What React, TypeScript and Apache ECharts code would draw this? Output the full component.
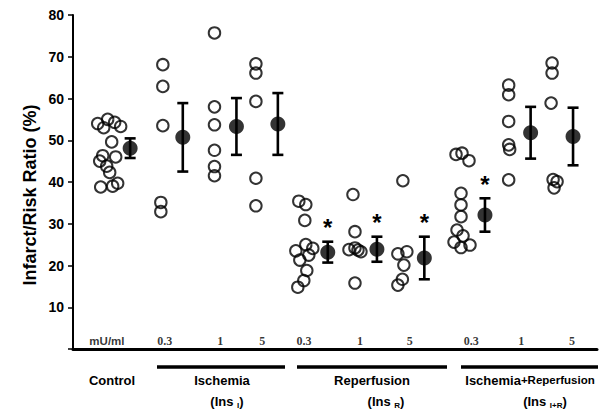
import React, { useEffect, useRef } from "react";
import * as echarts from "echarts";

// ---- data ----
const groupNames = ["Control", "Isch 0.3", "Isch 1", "Isch 5", "Rep 0.3", "Rep 1", "Rep 5", "I+R 0.3", "I+R 1", "I+R 5"];
const groupPos = [0.925, 1.98, 3.055, 3.885, 4.885, 5.87, 6.82, 8.035, 8.95, 9.8];

const controlVals = [54.0, 55.0, 53.0, 54.3, 53.3, 49.6, 46.3, 46.0, 45.0, 43.8, 42.3, 38.8, 39.0, 39.7];
const controlJitter = [-0.21, -0.01, -0.09, 0.13, 0.25, 0.07, -0.11, 0.15, -0.17, -0.03, 0.03, -0.15, 0.09, 0.19];
const isch03Vals = [68.1, 62.9, 53.5, 35.1, 32.9];
const isch03Jitter = [0.04, 0.04, 0.04, 0, 0];
const isch1Vals = [75.7, 58.0, 53.7, 47.6, 43.7, 41.5];
const isch1Jitter = [0, 0, 0, 0, 0, 0];
const isch5Vals = [68.3, 66.1, 59.3, 40.9, 34.3];
const isch5Jitter = [0, 0, 0, 0, 0];
const rep03Vals = [35.4, 34.6, 30.8, 25.0, 24.1, 23.5, 22.5, 21.3, 18.8, 16.4, 14.8];
const rep03Jitter = [-0.14, 0, -0.02, 0, 0.14, -0.2, 0.06, -0.12, 0.02, -0.04, -0.16];
const rep1Vals = [37.0, 28.1, 23.8, 24.2, 23.7, 23.3, 15.8];
const rep1Jitter = [-0.04, 0, -0.12, 0, 0.06, 0.12, 0];
const rep5Vals = [40.3, 23.3, 22.8, 20.1, 16.7, 15.3];
const rep5Jitter = [0.01, 0.09, -0.09, 0.03, 0, -0.09];
const ir03Vals = [46.6, 46.9, 45.1, 37.3, 34.5, 31.7, 28.5, 27.1, 25.6, 24.3, 24.9];
const ir03Jitter = [-0.14, -0.02, 0.12, -0.04, -0.04, -0.04, -0.12, 0, -0.18, -0.04, 0.14];
const ir1Vals = [63.2, 60.9, 54.5, 48.9, 47.8, 40.5];
const ir1Jitter = [0, 0, 0, 0, 0.02, 0];
const ir5Vals = [68.5, 66.1, 58.9, 40.6, 40.1, 38.6];
const ir5Jitter = [0.02, 0.02, 0, 0.04, 0.12, 0.06];

const meanVals = [48.1, 50.7, 53.3, 53.9, 23.2, 23.9, 21.8, 32.1, 51.8, 50.9];
const semVals = [2.35, 8.2, 6.8, 7.4, 2.5, 3.0, 5.1, 4.0, 6.2, 6.9];
const significant = [false, false, false, false, true, true, true, true, false, false];

const doseLabels = ["mU/ml", "0.3", "1", "5", "0.3", "1", "5", "0.3", "1", "5"];
const doseLabelPos = [0.68, 1.84, 2.95, 3.79, 4.63, 5.75, 6.75, 7.98, 8.98, 10.0];

const yTicks = [10, 20, 30, 40, 50, 60, 70, 80];

const individualVals = [controlVals, isch03Vals, isch1Vals, isch5Vals, rep03Vals, rep1Vals, rep5Vals, ir03Vals, ir1Vals, ir5Vals];
const individualJitter = [controlJitter, isch03Jitter, isch1Jitter, isch5Jitter, rep03Jitter, rep1Jitter, rep5Jitter, ir03Jitter, ir1Jitter, ir5Jitter];

const CIRCLE_SHIFT = -0.22;
const MEAN_SHIFT = 0.22;

export default function App() {
  const ref = useRef<HTMLDivElement>(null);
  useEffect(() => {
    if (!ref.current) return;
    const chart = echarts.init(ref.current, null, { renderer: "svg" });

    const circleData: number[][] = [];
    individualVals.forEach((vals, g) => {
      vals.forEach((v, i) => {
        circleData.push([groupPos[g] + CIRCLE_SHIFT + individualJitter[g][i], v]);
      });
    });
    const meanData = meanVals.map((m, g) => [groupPos[g] + MEAN_SHIFT, m]);
    const errData = meanVals.map((m, g) => [groupPos[g] + MEAN_SHIFT, m, semVals[g], significant[g] ? 1 : 0]);
    const doseData = doseLabels.map((t, i) => ({
      value: [doseLabelPos[i], 0],
      name: t,
      label: i === 0
        ? { fontFamily: "Liberation Sans, Arial, sans-serif", fontSize: 11.5 }
        : { fontFamily: "Liberation Serif, Times New Roman, serif", fontSize: 12 },
    }));

    const sans = "Liberation Sans, Arial, sans-serif";
    const black = "#000";
    const subRich = {
      a: { fontFamily: sans, fontWeight: "bold", fontSize: 13, lineHeight: 16, fill: black },
      s: { fontFamily: sans, fontWeight: "bold", fontSize: 8, lineHeight: 8, verticalAlign: "bottom", fill: black },
    };

    const option: any = {
      animation: false,
      backgroundColor: "#fff",
      grid: { left: 73, right: 3, top: 15, bottom: 66, containLabel: false },
      xAxis: {
        type: "value",
        min: 0,
        max: 10.5,
        axisLine: { show: true, onZero: false, lineStyle: { color: black, width: 3 } },
        axisTick: { show: false },
        axisLabel: { show: false },
        splitLine: { show: false },
      },
      yAxis: {
        type: "value",
        min: 0,
        max: 80,
        interval: 10,
        axisLine: { show: true, lineStyle: { color: black, width: 2 } },
        axisTick: { show: true, length: 5, inside: false, lineStyle: { color: black, width: 1.5 } },
        axisLabel: {
          color: black,
          fontFamily: sans,
          fontWeight: "bold",
          fontSize: 14,
          margin: 9,
          formatter: (v: number) => (yTicks.indexOf(v) >= 0 ? String(v) : ""),
        },
        splitLine: { show: false },
      },
      series: [
        {
          type: "scatter",
          name: "individual",
          data: circleData,
          symbol: "circle",
          symbolSize: 11.5,
          itemStyle: { color: "rgba(0,0,0,0)", borderColor: black, borderWidth: 2 },
          z: 3,
        },
        {
          type: "custom",
          name: "sem",
          data: errData,
          z: 4,
          renderItem: (params: any, api: any) => {
            const x = api.value(0);
            const m = api.value(1);
            const s = api.value(2);
            const sig = api.value(3);
            const top = api.coord([x, m + s]);
            const bot = api.coord([x, m - s]);
            const hw = 5.5;
            const st = { stroke: black, lineWidth: 2.6 };
            const children: any[] = [
              { type: "line", shape: { x1: top[0], y1: top[1], x2: bot[0], y2: bot[1] }, style: st },
              { type: "line", shape: { x1: top[0] - hw, y1: top[1], x2: top[0] + hw, y2: top[1] }, style: st },
              { type: "line", shape: { x1: bot[0] - hw, y1: bot[1], x2: bot[0] + hw, y2: bot[1] }, style: st },
            ];
            if (sig) {
              children.push({
                type: "text",
                style: {
                  text: "*",
                  x: top[0],
                  y: top[1] - 14,
                  align: "center",
                  verticalAlign: "middle",
                  font: "bold 24px " + sans,
                  fill: black,
                },
              });
            }
            return { type: "group", children };
          },
        },
        {
          type: "scatter",
          name: "mean",
          data: meanData,
          symbol: "circle",
          symbolSize: 15,
          itemStyle: { color: black },
          z: 5,
        },
        {
          type: "scatter",
          name: "dose",
          data: doseData,
          symbolSize: 0,
          silent: true,
          label: {
            show: true,
            position: "top",
            distance: 2,
            color: black,
            fontWeight: "bold",
            formatter: (p: any) => p.name,
          },
          z: 6,
        },
      ],
      graphic: [
        {
          type: "text",
          x: 30,
          y: 195,
          rotation: Math.PI / 2,
          style: {
            text: "Infarct/Risk Ratio (%)",
            align: "center",
            verticalAlign: "middle",
            font: "bold 18px " + sans,
            fill: black,
          },
        },
        { type: "line", shape: { x1: 157, y1: 367, x2: 285, y2: 367 }, style: { stroke: black, lineWidth: 3.5 } },
        { type: "line", shape: { x1: 297, y1: 367, x2: 447, y2: 367 }, style: { stroke: black, lineWidth: 3.5 } },
        { type: "line", shape: { x1: 461, y1: 367, x2: 598, y2: 367 }, style: { stroke: black, lineWidth: 3.5 } },
        {
          type: "text",
          style: { text: "Control", x: 112, y: 380, align: "center", verticalAlign: "middle", font: "bold 13px " + sans, fill: black },
        },
        {
          type: "text",
          style: { text: "Ischemia", x: 222, y: 380, align: "center", verticalAlign: "middle", font: "bold 13px " + sans, fill: black },
        },
        {
          type: "text",
          style: { text: "{a|(Ins }{s|I}{a|)}", x: 227, y: 401, align: "center", verticalAlign: "middle", rich: subRich },
        },
        {
          type: "text",
          style: { text: "Reperfusion", x: 372, y: 380, align: "center", verticalAlign: "middle", font: "bold 13px " + sans, fill: black },
        },
        {
          type: "text",
          style: { text: "{a|(Ins }{s|R}{a|)}", x: 386, y: 401, align: "center", verticalAlign: "middle", rich: subRich },
        },
        {
          type: "text",
          style: {
            text: "{a|Ischemia}{b|+Reperfusion}",
            x: 530,
            y: 380,
            align: "center",
            verticalAlign: "middle",
            rich: {
              a: { fontFamily: sans, fontWeight: "bold", fontSize: 13, fill: black },
              b: { fontFamily: sans, fontWeight: "bold", fontSize: 11.5, fill: black },
            },
          },
        },
        {
          type: "text",
          style: { text: "{a|(Ins }{s|I+R}{a|)}", x: 545, y: 401, align: "center", verticalAlign: "middle", rich: subRich },
        },
      ],
    };
    chart.setOption(option);
    return () => chart.dispose();
  }, []);
  return <div ref={ref} style={{ position: "absolute", left: 0, top: 0, width: 600, height: 415 }} />;
}
